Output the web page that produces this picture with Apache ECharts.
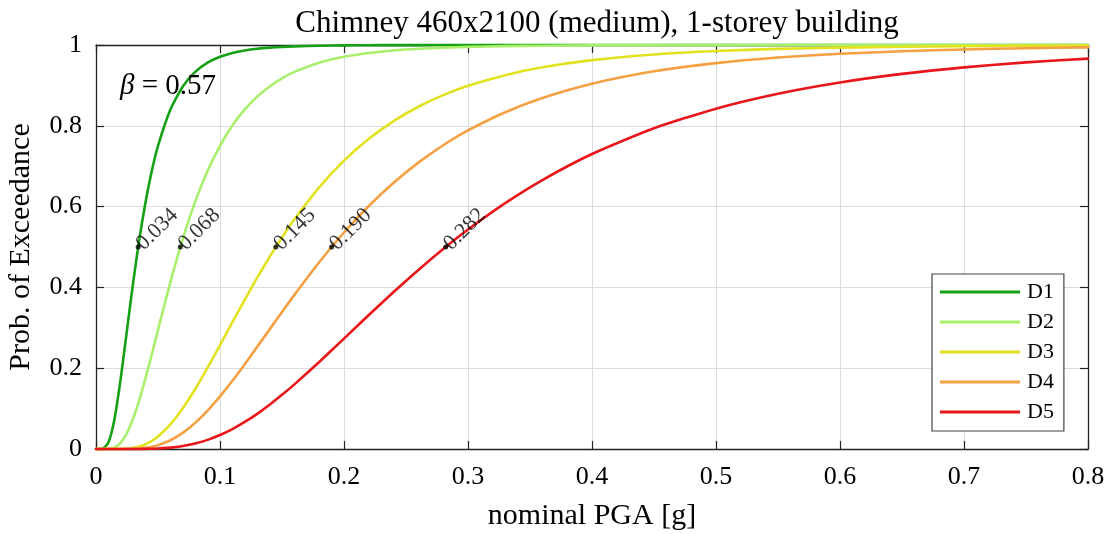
<!DOCTYPE html>
<html>
<head>
<meta charset="utf-8">
<script src="https://cdn.jsdelivr.net/npm/echarts@6/dist/echarts.min.js"></script>
<style>
  html, body { margin: 0; padding: 0; background: #fff; }
  #chart { width: 1110px; height: 534px; }
</style>
</head>
<body>
<div id="chart"></div>
<script>
// Fragility curves: probability of exceeding damage states D1..D5 vs nominal PGA
const pga = [0, 0.005, 0.01, 0.015, 0.02, 0.025, 0.03, 0.035, 0.04, 0.045, 0.05,
  0.06, 0.07, 0.08, 0.09, 0.10, 0.11, 0.12, 0.13, 0.14, 0.15, 0.16, 0.18, 0.20,
  0.22, 0.24, 0.26, 0.28, 0.30, 0.33, 0.36, 0.40, 0.45, 0.50, 0.55, 0.60, 0.65,
  0.70, 0.75, 0.80];

const d1 = [0, 0.0004, 0.0159, 0.0756, 0.1760, 0.2948, 0.4131, 0.5203, 0.6122, 0.6885, 0.7506,
  0.8405, 0.8974, 0.9334, 0.9562, 0.9708, 0.9803, 0.9865, 0.9907, 0.9935, 0.9954, 0.9967, 0.9983, 0.9991,
  0.9995, 0.9997, 0.9998, 0.9999, 1, 1, 1, 1, 1, 1, 1, 1, 1,
  1, 1, 1];
const d2 = [0, 0, 0.0004, 0.0040, 0.0159, 0.0396, 0.0755, 0.1220, 0.1760, 0.2344, 0.2948,
  0.4131, 0.5202, 0.6122, 0.6885, 0.7506, 0.8006, 0.8405, 0.8722, 0.8974, 0.9174, 0.9334, 0.9562, 0.9708,
  0.9803, 0.9865, 0.9907, 0.9935, 0.9954, 0.9972, 0.9983, 0.9991, 0.9995, 0.9998, 0.9999, 1, 1,
  1, 1, 1];
const d3 = [0, 0, 0, 0, 0.0003, 0.0010, 0.0029, 0.0063, 0.0119, 0.0200, 0.0309,
  0.0608, 0.1007, 0.1484, 0.2014, 0.2572, 0.3139, 0.3699, 0.4240, 0.4754, 0.5237, 0.5685, 0.6478, 0.7137,
  0.7677, 0.8117, 0.8472, 0.8758, 0.8989, 0.9254, 0.9447, 0.9625, 0.9765, 0.9851, 0.9903, 0.9936, 0.9958,
  0.9971, 0.9980, 0.9986];
const d4 = [0, 0, 0, 0, 0, 0.0002, 0.0006, 0.0015, 0.0031, 0.0058, 0.0096,
  0.0216, 0.0399, 0.0646, 0.0950, 0.1301, 0.1688, 0.2100, 0.2528, 0.2961, 0.3392, 0.3815, 0.4622, 0.5359,
  0.6015, 0.6590, 0.7089, 0.7518, 0.7885, 0.8336, 0.8689, 0.9042, 0.9348, 0.9552, 0.9689, 0.9782, 0.9845,
  0.9889, 0.9920, 0.9942];
const d5 = [0, 0, 0, 0, 0, 0, 0, 0.0001, 0.0003, 0.0006, 0.0012,
  0.0033, 0.0073, 0.0135, 0.0226, 0.0345, 0.0493, 0.0669, 0.0871, 0.1096, 0.1340, 0.1600, 0.2154, 0.2733,
  0.3316, 0.3886, 0.4433, 0.4950, 0.5432, 0.6086, 0.6658, 0.7301, 0.7938, 0.8425, 0.8794, 0.9073, 0.9285,
  0.9446, 0.9569, 0.9663];

// median PGA of each damage state (probability 0.5)
const medians = [0.034, 0.068, 0.145, 0.190, 0.282];
const stateNames = ['D1', 'D2', 'D3', 'D4', 'D5'];
const stateColors = ['#15a015', '#a9ef6c', '#e2e220', '#f5a042', '#e8161a'];
const xTicks = [0, 0.1, 0.2, 0.3, 0.4, 0.5, 0.6, 0.7, 0.8];
const yTicks = [0, 0.2, 0.4, 0.6, 0.8, 1];

const FONT = '"Liberation Serif", "DejaVu Serif", serif';
const curves = [d1, d2, d3, d4, d5];

const lineSeries = curves.map((ys, i) => ({
  name: stateNames[i],
  type: 'line',
  xAxisIndex: 0,
  yAxisIndex: 0,
  data: pga.map((x, k) => [x, ys[k]]),
  showSymbol: false,
  smooth: 0.2,
  clip: false,
  lineStyle: { color: stateColors[i], width: 2.6, join: 'round', cap: 'round' },
  itemStyle: { color: stateColors[i] },
  z: 3
}));

const medianSeries = {
  type: 'scatter',
  xAxisIndex: 0,
  yAxisIndex: 0,
  data: medians.map(m => [m, 0.5]),
  symbol: 'circle',
  symbolSize: 5,
  itemStyle: { color: '#000' },
  z: 5,
  silent: true,
  label: {
    show: true,
    formatter: p => p.value[0].toFixed(3),
    position: 'right',
    distance: -1,
    rotate: 45,
    align: 'left',
    verticalAlign: 'middle',
    fontFamily: FONT,
    fontSize: 22,
    color: '#000'
  }
};

const chart = echarts.init(document.getElementById('chart'), null, { renderer: 'canvas' });

chart.setOption({
  backgroundColor: '#fff',
  animation: false,
  title: {
    text: 'Chimney 460x2100 (medium), 1-storey building',
    left: 592,
    textAlign: 'center',
    top: 3,
    textStyle: { fontFamily: FONT, fontWeight: 'normal', fontSize: 31, color: '#000' }
  },
  grid: { left: 96, right: 22, top: 45, bottom: 85, containLabel: false, outerBoundsMode: 'none' },
  legend: {
    data: stateNames,
    orient: 'vertical',
    left: 932,
    top: 274,
    padding: [7, 10, 8, 8],
    itemGap: 8,
    itemWidth: 80,
    itemHeight: 3,
    icon: 'rect',
    backgroundColor: '#fff',
    borderColor: '#444',
    borderWidth: 1.2,
    borderRadius: 0,
    textStyle: { fontFamily: FONT, fontSize: 22, lineHeight: 22, color: '#000', padding: [0, 0, 0, 2] }
  },
  graphic: [{
    type: 'text',
    left: 120,
    top: 72,
    z: 10,
    style: {
      text: '{b|β} = 0.57',
      fontFamily: FONT,
      fontSize: 29,
      fill: '#000',
      rich: { b: { fontFamily: FONT, fontSize: 29, fontStyle: 'italic' } }
    }
  }],
  xAxis: [{
    type: 'value',
    min: 0, max: 0.8, interval: 0.1,
    name: 'nominal PGA [g]',
    nameLocation: 'middle',
    nameGap: 52,
    nameTextStyle: { fontFamily: FONT, fontSize: 30, color: '#000' },
    axisLine: { show: true, onZero: false, lineStyle: { color: '#222', width: 1.3 } },
    axisTick: { show: true, inside: true, length: 8, lineStyle: { color: '#222', width: 1.2 } },
    axisLabel: { fontFamily: FONT, fontSize: 26, color: '#000', margin: 15,
      formatter: v => xTicks.includes(+v.toFixed(1)) ? String(+v.toFixed(1)) : '' },
    splitLine: { show: true, lineStyle: { color: '#dcdcdc', width: 1 } }
  }, {
    type: 'value',
    position: 'top',
    min: 0, max: 0.8, interval: 0.1,
    axisLine: { show: true, onZero: false, lineStyle: { color: '#222', width: 1.3 } },
    axisTick: { show: true, inside: true, length: 8, lineStyle: { color: '#222', width: 1.2 } },
    axisLabel: { show: false },
    splitLine: { show: false }
  }],
  yAxis: [{
    type: 'value',
    min: 0, max: 1, interval: 0.2,
    name: 'Prob. of Exceedance',
    nameLocation: 'middle',
    nameGap: 60,
    nameTextStyle: { fontFamily: FONT, fontSize: 30, color: '#000' },
    axisLine: { show: true, onZero: false, lineStyle: { color: '#222', width: 1.3 } },
    axisTick: { show: true, inside: true, length: 8, lineStyle: { color: '#222', width: 1.2 } },
    axisLabel: { fontFamily: FONT, fontSize: 26, color: '#000', margin: 14,
      formatter: v => { const r = +v.toFixed(1); return yTicks.includes(r) ? String(r) : ''; } },
    splitLine: { show: true, lineStyle: { color: '#dcdcdc', width: 1 } }
  }, {
    type: 'value',
    position: 'right',
    min: 0, max: 1, interval: 0.2,
    axisLine: { show: true, onZero: false, lineStyle: { color: '#222', width: 1.3 } },
    axisTick: { show: true, inside: true, length: 8, lineStyle: { color: '#222', width: 1.2 } },
    axisLabel: { show: false },
    splitLine: { show: false }
  }],
  series: [...lineSeries, medianSeries]
});
</script>
</body>
</html>
